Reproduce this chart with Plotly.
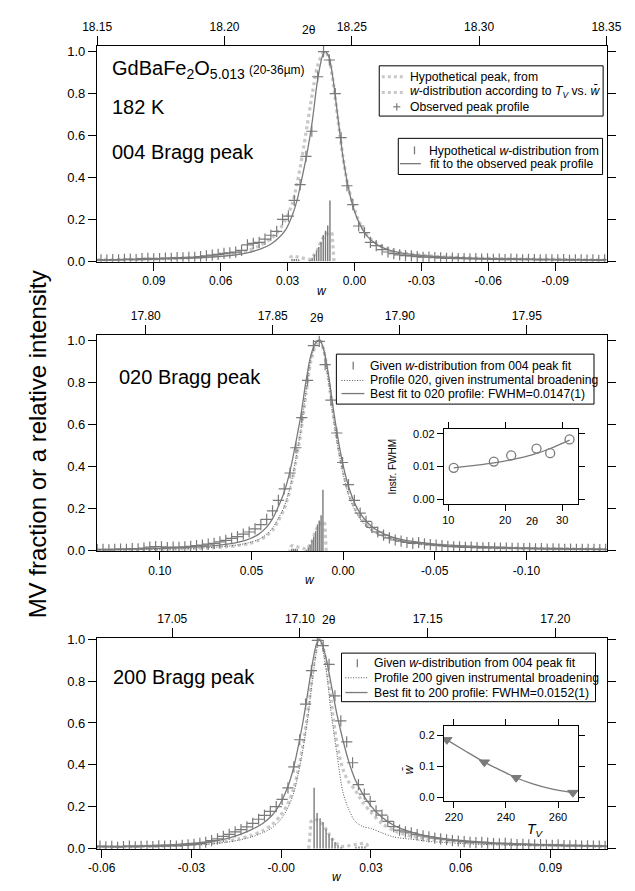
import plotly.graph_objects as go

W, H = 635, 891
FONT = "Liberation Sans, Arial, sans-serif"
GRAY = "#7a7a7a"
LIGHT = "#c8c8c8"
DARK = "#555555"
FINE_DOT = "1px,1.6px"


def fx(x):
    return x / W


def fy(y):
    return 1 - y / H


# ---------------- 004 Bragg peak ----------------
tth004_start, tth004_step = 18.1515, 0.0023
obs004 = [.006, .005, .008, .006, .009, .010, .008, .012, .014, .011,
          .013, .015, .014, .017, .016, .019, .018, .022, .026, .029,
          .033, .037, .040, .043, .052, .078, .085, .090, .105, .124,
          .142, .200, .215, .290, .365, .500, .620, .880, 1.000, .960,
          .800, .590, .360, .270, .168, .136, .090, .074, .055, .044,
          .036, .030, .027, .025, .022, .019, .020, .017, .016, .014,
          .015, .012, .013, .011, .012, .010, .011, .009, .010, .008,
          .010, .009, .007, .009, .008, .006, .008, .007, .006, .008,
          .005, .007, .006, .005, .007, .004, .006]
tth004_curve = [18.150, 18.170, 18.185, 18.195, 18.203, 18.209, 18.214, 18.218,
                18.221, 18.224, 18.2265, 18.2285, 18.2305, 18.2325, 18.2345,
                18.2365, 18.2385, 18.2395, 18.2410, 18.2425, 18.2445, 18.2465,
                18.2485, 18.2505, 18.2530, 18.2560, 18.2600, 18.2650, 18.2720,
                18.2820, 18.2950, 18.3150, 18.3500]
fit004 = [.005, .009, .014, .020, .028, .040, .058, .080, .108, .150, .215, .29,
          .40, .52, .67, .86, .98, 1.0, .975, .88, .69, .50, .36, .26, .18, .12,
          .078, .052, .035, .023, .016, .011, .006]
hyp004 = [.006, .010, .016, .024, .034, .050, .075, .105, .14, .20, .27, .37,
          .50, .65, .80, .93, .99, 1.0, .97, .87, .68, .50, .36, .27, .185, .125,
          .082, .055, .036, .024, .016, .011, .006]

# MV fraction per w value (fit to the 004 profile)
w_dist = [0.0110, 0.0120, 0.0130, 0.0140, 0.0150, 0.0160, 0.0170, 0.0180,
          0.0190, 0.0200, 0.0250, 0.0260, 0.0270, 0.0280]
f_dist = [0.290, 0.170, 0.145, 0.125, 0.093, 0.068, 0.050, 0.031,
          0.016, 0.006, 0.008, 0.010, 0.011, 0.010]
# w distribution expected from T_V vs. mean w
w_hyp = [0.0092, 0.0100, 0.0114, 0.0137, 0.0156, 0.0168, 0.0186, 0.0200,
         0.0222, 0.0245, 0.0262, 0.0277, 0.0286, 0.0293]
f_hyp = [0.0, 0.13, 0.14, 0.12, 0.08, 0.05, 0.022, 0.008,
         0.012, 0.018, 0.023, 0.026, 0.02, 0.0]

# ---------------- 020 Bragg peak ----------------
tth020_start, tth020_step = 17.7809, 0.0023
obs020 = [.006, .008, .005, .007, .009, .008, .011, .010, .013, .018,
          .021, .019, .016, .018, .017, .020, .022, .025, .028, .032,
          .036, .043, .050, .060, .068, .080, .090, .105, .125, .150,
          .190, .240, .295, .370, .490, .633, .810, .975, .995, .885,
          .716, .560, .420, .315, .240, .180, .140, .112, .090, .075,
          .062, .052, .047, .040, .036, .040, .034, .030, .028, .025,
          .022, .020, .019, .017, .018, .016, .015, .016, .014, .013,
          .014, .012, .012, .011, .012, .010, .011, .009, .010, .009,
          .008, .009, .008, .007, .008, .007, .006, .007]
tth020_curve = [17.7808, 17.800, 17.815, 17.825, 17.832, 17.837, 17.841, 17.8445,
                17.8475, 17.850, 17.852, 17.8545, 17.8568, 17.859, 17.861,
                17.863, 17.865, 17.8672, 17.8685, 17.870, 17.872, 17.874,
                17.876, 17.878, 17.880, 17.8825, 17.8855, 17.889, 17.893,
                17.898, 17.905, 17.915, 17.930, 17.950, 17.9814]
fit020 = [.006, .010, .016, .023, .032, .043, .058, .080, .112, .155, .205, .28,
          .38, .51, .64, .80, .93, .995, 1.0, .96, .83, .66, .51, .39, .30, .22,
          .16, .115, .085, .062, .045, .031, .021, .014, .009]
prof020 = [.004, .007, .011, .016, .022, .030, .040, .055, .078, .11, .15, .21,
           .30, .43, .57, .75, .91, .99, 1.0, .95, .80, .62, .47, .35, .26, .19,
           .135, .098, .072, .053, .038, .026, .017, .011, .007]
hyp020 = [.004, .006, .010, .014, .020, .027, .036, .050, .072, .10, .14, .20,
          .29, .42, .56, .74, .90, .985, 1.0, .955, .81, .63, .48, .36, .27, .20,
          .14, .10, .075, .055, .039, .027, .018, .012, .008]

# ---------------- 200 Bragg peak ----------------
tth200_start, tth200_step = 17.0217, 0.0023
obs200 = [.012, .008, .010, .006, .009, .011, .008, .010, .012, .009,
          .013, .011, .014, .012, .015, .017, .020, .025, .030, .038,
          .046, .058, .068, .080, .090, .103, .120, .140, .158, .178,
          .200, .235, .290, .390, .520, .690, .850, .995, .970, .880,
          .730, .610, .510, .410, .305, .260, .225, .180, .160, .130,
          .105, .088, .080, .075, .066, .060, .056, .050, .046, .042,
          .038, .036, .033, .030, .028, .030, .026, .024, .022, .025,
          .021, .019, .020, .018, .017, .019, .016, .015, .017, .014,
          .013, .015, .012, .013, .011, .012, .010]
tth200_curve = [17.0205, 17.037, 17.052, 17.063, 17.0705, 17.0761, 17.081, 17.0854,
                17.0892, 17.0925, 17.0951, 17.0974, 17.0992, 17.1011, 17.103,
                17.1048, 17.1063, 17.1075, 17.1086, 17.1104, 17.1123, 17.1145,
                17.1168, 17.119, 17.1216, 17.1246, 17.128, 17.1321, 17.1369,
                17.1433, 17.1507, 17.16, 17.1749, 17.1936, 17.2201]
fit200 = [.010, .013, .020, .030, .045, .065, .09, .12, .16, .22, .29, .38, .48,
          .60, .74, .88, .97, 1.0, .98, .90, .78, .64, .52, .42, .33, .26, .20,
          .15, .11, .08, .058, .042, .028, .019, .012]
prof200 = [.006, .009, .013, .020, .029, .040, .055, .075, .10, .14, .19, .26,
           .35, .47, .62, .80, .93, 1.0, .97, .84, .64, .45, .27, .19, .13, .105,
           .095, .075, .055, .045, .034, .026, .018, .013, .008]
hyp200 = [.007, .010, .015, .023, .033, .046, .063, .085, .115, .16, .21, .28,
          .37, .49, .64, .82, .95, 1.0, .98, .88, .70, .50, .38, .32, .28, .22,
          .17, .12, .085, .06, .045, .034, .024, .017, .011]

# ---------------- insets ----------------
inst_tth = [10.95, 18.0, 21.05, 25.5, 27.9, 31.3]
inst_fwhm = [0.0096, 0.0115, 0.0134, 0.0155, 0.0141, 0.0183]
inst_fit_tth = [10.95, 15.0, 18.0, 21.0, 25.0, 28.0, 31.3]
inst_fit_fwhm = [0.0096, 0.0104, 0.0111, 0.0120, 0.0137, 0.0156, 0.0181]

tv_vals = [217.3, 231.7, 243.9, 265.7]
wbar_vals = [0.185, 0.113, 0.063, 0.015]
tv_fit = [217.3, 225.0, 231.7, 238.0, 243.9, 250.0, 257.0, 265.7]
wbar_fit = [0.185, 0.146, 0.113, 0.087, 0.063, 0.044, 0.028, 0.015]


def grid(start, step, n):
    return [round(start + step * i, 5) for i in range(n)]


def bar_lines(w, f, xa, ya):
    xs, ys = [], []
    for a, b in zip(w, f):
        xs += [a, a, None]
        ys += [0, b, None]
    return go.Scatter(x=xs, y=ys, xaxis=xa, yaxis=ya, mode="lines",
                      line=dict(color=GRAY, width=1.4), hoverinfo="skip")


def curve(x, y, xa, ya, color, width, dash="solid", spline=True):
    return go.Scatter(x=x, y=y, xaxis=xa, yaxis=ya, mode="lines",
                      line=dict(color=color, width=width, dash=dash,
                                shape="spline" if spline else "linear",
                                smoothing=0.8),
                      hoverinfo="skip")


def crosses(x, y, xa, ya):
    return go.Scatter(x=x, y=y, xaxis=xa, yaxis=ya, mode="markers",
                      marker=dict(symbol="cross-thin", size=8, color=GRAY,
                                  line=dict(color=GRAY, width=1.2)),
                      hoverinfo="skip")


fig = go.Figure()

# panel 004
fig.add_trace(curve(tth004_curve, hyp004, "x4", "y", LIGHT, 3.2, "dot"))
fig.add_trace(curve(w_hyp, f_hyp, "x", "y", LIGHT, 3.2, "dot", spline=False))
fig.add_trace(curve(tth004_curve, fit004, "x4", "y", GRAY, 1.3))
fig.add_trace(bar_lines(w_dist, f_dist, "x", "y"))
fig.add_trace(crosses(grid(tth004_start, tth004_step, len(obs004)), obs004, "x4", "y"))

# panel 020
fig.add_trace(curve(tth020_curve, hyp020, "x5", "y2", LIGHT, 3.2, "dot"))
fig.add_trace(curve(w_hyp, f_hyp, "x2", "y2", LIGHT, 3.2, "dot", spline=False))
fig.add_trace(curve(tth020_curve, prof020, "x5", "y2", DARK, 1.0, FINE_DOT))
fig.add_trace(curve(tth020_curve, fit020, "x5", "y2", GRAY, 1.3))
fig.add_trace(bar_lines(w_dist, f_dist, "x2", "y2"))
fig.add_trace(crosses(grid(tth020_start, tth020_step, len(obs020)), obs020, "x5", "y2"))

# panel 200
fig.add_trace(curve(tth200_curve, hyp200, "x6", "y3", LIGHT, 3.2, "dot"))
fig.add_trace(curve(w_hyp, f_hyp, "x3", "y3", LIGHT, 3.2, "dot", spline=False))
fig.add_trace(curve(tth200_curve, prof200, "x6", "y3", DARK, 1.0, FINE_DOT))
fig.add_trace(curve(tth200_curve, fit200, "x6", "y3", GRAY, 1.3))
fig.add_trace(bar_lines(w_dist, f_dist, "x3", "y3"))
fig.add_trace(crosses(grid(tth200_start, tth200_step, len(obs200)), obs200, "x6", "y3"))

# inset: instrumental FWHM vs 2theta
fig.add_trace(curve(inst_fit_tth, inst_fit_fwhm, "x7", "y7", GRAY, 1.3))
fig.add_trace(go.Scatter(x=inst_tth, y=inst_fwhm, xaxis="x7", yaxis="y7", mode="markers",
                         marker=dict(symbol="circle-open", size=9, color=GRAY,
                                     line=dict(color=GRAY, width=1.3)),
                         hoverinfo="skip"))
# inset: mean w vs T_V
fig.add_trace(curve(tv_fit, wbar_fit, "x8", "y8", GRAY, 1.3))
fig.add_trace(go.Scatter(x=tv_vals, y=wbar_vals, xaxis="x8", yaxis="y8", mode="markers",
                         marker=dict(symbol="triangle-down", size=9, color=GRAY,
                                     line=dict(color=GRAY, width=1)),
                         hoverinfo="skip"))

base = dict(showline=True, linecolor="black", linewidth=1, ticks="outside",
            ticklen=8, tickwidth=1, tickcolor="black", showgrid=False,
            zeroline=False, ticklabeloverflow="allow",
            tickfont=dict(family=FONT, size=12, color="black"))
inset = dict(base, ticklen=6, mirror="allticks",
             tickfont=dict(family=FONT, size=11, color="black"))

XDOM = [fx(86), fx(621)]
lay = {}
# bottom w axes
lay["xaxis"] = dict(base, domain=XDOM, anchor="y", range=[0.1155, -0.1131],
                    tickvals=[0.09, 0.06, 0.03, 0.0, -0.03, -0.06, -0.09],
                    ticktext=["0.09", "0.06", "0.03", "0.00", "-0.03", "-0.06", "-0.09"])
lay["xaxis2"] = dict(base, domain=XDOM, anchor="y2", range=[0.1343, -0.1438],
                     tickvals=[0.10, 0.05, 0.0, -0.05, -0.10],
                     ticktext=["0.10", "0.05", "0.00", "-0.05", "-0.10"])
lay["xaxis3"] = dict(base, domain=XDOM, anchor="y3", range=[-0.0616, 0.1088],
                     tickvals=[-0.06, -0.03, 0.0, 0.03, 0.06, 0.09],
                     ticktext=["-0.06", "-0.03", "-0.00", "0.03", "0.06", "0.09"])
# top 2theta axes
lay["xaxis4"] = dict(base, overlaying="x", side="top", anchor="y", range=[18.1499, 18.3501],
                     ticklen=9, tickvals=[18.15, 18.20, 18.25, 18.30, 18.35],
                     ticktext=["18.15", "18.20", "18.25", "18.30", "18.35"])
lay["xaxis5"] = dict(base, overlaying="x2", side="top", anchor="y2", range=[17.7808, 17.9814],
                     ticklen=9, tickvals=[17.80, 17.85, 17.90, 17.95],
                     ticktext=["17.80", "17.85", "17.90", "17.95"])
lay["xaxis6"] = dict(base, overlaying="x3", side="top", anchor="y3", range=[17.0205, 17.2201],
                     ticklen=9, tickvals=[17.05, 17.10, 17.15, 17.20],
                     ticktext=["17.05", "17.10", "17.15", "17.20"])
yt = dict(tickvals=[0, 0.2, 0.4, 0.6, 0.8, 1.0],
          ticktext=["0.0", "0.2", "0.4", "0.6", "0.8", "1.0"],
          tickfont=dict(family=FONT, size=13, color="black"), mirror="allticks")
lay["yaxis"] = dict(base, **yt, domain=[fy(259.5), fy(40.7)], anchor="x", range=[-0.0024, 1.0263])
lay["yaxis2"] = dict(base, **yt, domain=[fy(553.5), fy(334)], anchor="x2", range=[-0.0023, 1.0248])
lay["yaxis3"] = dict(base, **yt, domain=[fy(855.5), fy(641)], anchor="x3", range=[-0.0024, 1.008])
# insets
lay["xaxis7"] = dict(inset, domain=[fx(450), fx(591)], anchor="y7", range=[9.2, 32.8],
                     tickvals=[10, 20, 30])
lay["yaxis7"] = dict(inset, domain=[fy(505.3), fy(429.3)], anchor="x7", range=[-0.0015, 0.0215],
                     tickvals=[0, 0.01, 0.02], ticktext=["0.00", "0.01", "0.02"])
lay["xaxis8"] = dict(inset, domain=[fx(450), fx(591)], anchor="y8", range=[216.1, 267.7],
                     tickvals=[220, 240, 260])
lay["yaxis8"] = dict(inset, domain=[fy(806.7), fy(731)], anchor="x8", range=[-0.0117, 0.2286],
                     tickvals=[0, 0.1, 0.2], ticktext=["0.0", "0.1", "0.2"])

annotations = []
shapes = []


def text(x, y, s, size, xanchor="left", angle=0, yanchor="middle"):
    annotations.append(dict(x=fx(x), y=fy(y), xref="paper", yref="paper", text=s,
                            showarrow=False, xanchor=xanchor, yanchor=yanchor,
                            textangle=angle,
                            font=dict(family=FONT, size=size, color="black")))


def hline(x0, x1, y, color, width=1.3, dash="solid"):
    shapes.append(dict(type="line", xref="paper", yref="paper", x0=fx(x0), x1=fx(x1),
                       y0=fy(y), y1=fy(y), line=dict(color=color, width=width, dash=dash)))


def vline(x, y0, y1, color, width=1.3):
    shapes.append(dict(type="line", xref="paper", yref="paper", x0=fx(x), x1=fx(x),
                       y0=fy(y0), y1=fy(y1), line=dict(color=color, width=width)))


def box(x0, y0, x1, y1):
    shapes.append(dict(type="rect", xref="paper", yref="paper", x0=fx(x0), x1=fx(x1),
                       y0=fy(y1), y1=fy(y0), fillcolor="white", layer="above",
                       line=dict(color="black", width=1)))


# panel labels
text(100, 64, "GdBaFe<sub>2</sub>O<sub>5.013</sub>", 20)
text(243, 65, "(20-36µm)", 12)
text(100, 103, "182 K", 20)
text(100, 148, "004 Bragg peak", 20)
text(107, 377, "020 Bragg peak", 20)
text(101, 681, "200 Bragg peak", 20)
text(24, 445, "MV fraction or a relative intensity", 24, xanchor="center", angle=-90)

# axis titles
text(309, 24, "2θ", 12, xanchor="center")
text(317, 317, "2θ", 12, xanchor="center")
text(330, 623, "2θ", 12, xanchor="center")
text(322, 289, "<i>w</i>", 12, xanchor="center")
text(310, 583, "<i>w</i>", 12, xanchor="center")
text(338, 884, "<i>w</i>", 12, xanchor="center")
text(396, 467, "Instr. FWHM", 10, xanchor="center", angle=-90)
text(543, 523, "2θ", 11, xanchor="center")
text(413, 774, "<i>w̄</i>", 12, xanchor="center", angle=-90)
text(546, 836, "<i>T</i><sub><i>V</i></sub>", 14, xanchor="center")

# legend: 004 hypothetical / observed
LF = 12.2
box(382.3, 60.7, 617.3, 111.7)
hline(385, 407, 71.7, LIGHT, 3, "dot")
hline(385, 407, 87.7, LIGHT, 3, "dot")
hline(397, 404.4, 102.3, GRAY, 1.2)
vline(400.7, 98.6, 106, GRAY, 1.2)
text(412.7, 71.7, "Hypothetical peak, from", LF)
text(412.7, 87.7, "<i>w</i>-distribution according to <i>T</i><sub><i>V</i></sub> vs. <i>w̄</i>", LF)
text(412.7, 102.3, "Observed peak profile", LF)

# legend: 004 fit
box(402.3, 134.3, 616.7, 171)
vline(419.3, 142.5, 150.5, GRAY)
hline(404, 426, 160, GRAY)
text(432.7, 146.7, "Hypothetical <i>w</i>-distribution from", LF)
text(433.5, 160, "fit to the observed peak profile", LF)

# legend: 020
box(337.3, 353.3, 607.7, 404)
vline(355, 361, 369, GRAY)
hline(342.7, 366.7, 380, DARK, 1, FINE_DOT)
hline(342.7, 366.7, 393.3, GRAY)
text(371, 365, "Given <i>w</i>-distribution from 004 peak fit", LF)
text(371, 380, "Profile 020, given instrumental broadening", LF)
text(371, 393.3, "Best fit to 020 profile: FWHM=0.0147(1)", LF)

# legend: 200
box(342.7, 656.7, 609.3, 706)
vline(359.3, 663, 671, GRAY)
hline(346.7, 370, 681.7, DARK, 1, FINE_DOT)
hline(346.7, 370, 696.7, GRAY)
text(375, 666.7, "Given <i>w</i>-distribution from 004 peak fit", LF)
text(375, 681.7, "Profile 200 given instrumental broadening", LF)
text(375, 696.7, "Best fit to 200 profile: FWHM=0.0152(1)", LF)

fig.update_layout(**lay)
fig.update_layout(width=W, height=H, margin=dict(l=0, r=0, t=0, b=0),
                  paper_bgcolor="white", plot_bgcolor="white", showlegend=False,
                  annotations=annotations, shapes=shapes,
                  font=dict(family=FONT, color="black"))

fig.write_html("out.html")
